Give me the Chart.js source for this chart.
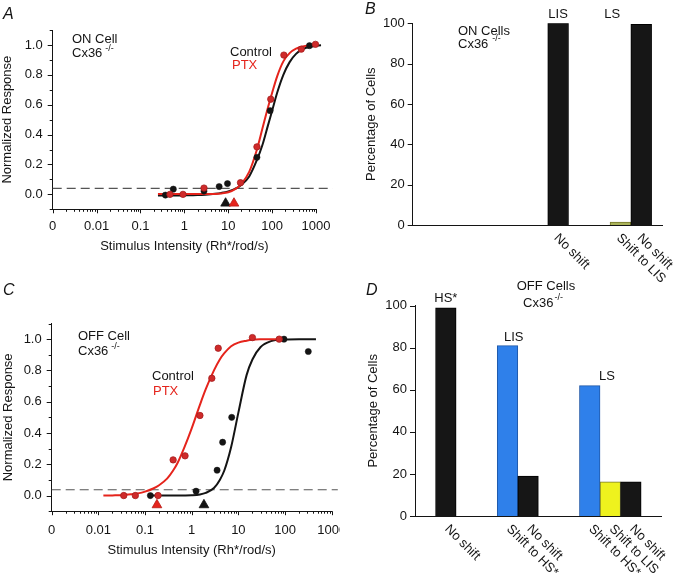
<!DOCTYPE html>
<html>
<head>
<meta charset="utf-8">
<script src="https://cdn.jsdelivr.net/npm/chart.js@4.4.0/dist/chart.umd.min.js"></script>
<style>
  body { margin: 0; background: #fff; width: 680px; height: 577px; position: relative; overflow: hidden; }
  .panel { position: absolute; overflow: hidden; }
  .letter { position: absolute; font: italic 16px 'Liberation Sans', Arial, sans-serif; line-height: 16px; color: #141414; }
</style>
</head>
<body>
<div class="panel" style="left:0;top:0;width:340px;height:290px"><canvas id="chartA" width="340" height="290"></canvas></div>
<div class="panel" style="left:340px;top:0;width:340px;height:290px"><canvas id="chartB" width="340" height="290"></canvas></div>
<div class="panel" style="left:0;top:290px;width:340px;height:287px"><canvas id="chartC" width="360" height="287"></canvas></div>
<div class="panel" style="left:340px;top:270px;width:340px;height:307px"><canvas id="chartD" width="340" height="307"></canvas></div>
<div class="letter" style="left:3px;top:6px">A</div>
<div class="letter" style="left:365px;top:1px">B</div>
<div class="letter" style="left:3px;top:282px">C</div>
<div class="letter" style="left:366px;top:282px">D</div>
<script>
// ---- Panel A: ON cell, Cx36-/- (intensity-response) ----
const ctrlAx = [0.37, 0.56, 2.8, 6.2, 9.6, 45, 90, 708, 1460];
const ctrlAy = [-0.005, 0.035, 0.022, 0.052, 0.072, 0.248, 0.56, 0.995, 1.0];
const ptxAx = [0.47, 0.93, 2.8, 19, 45, 93, 185, 460, 970];
const ptxAy = [0, 0, 0.042, 0.078, 0.318, 0.637, 0.932, 0.972, 1.004];
const fitCtrlAx = [0.25, 0.5, 1, 2, 3, 5, 7, 10, 15, 20, 30, 45, 60, 80, 100, 130, 180, 250, 350, 500, 800, 1300, 2400];
const fitCtrlAy = [-0.008, -0.008, -0.007, -0.005, -0.002, 0.004, 0.01, 0.02, 0.04, 0.065, 0.12, 0.23, 0.33, 0.46, 0.56, 0.68, 0.8, 0.885, 0.94, 0.972, 0.99, 0.998, 1.0];
const fitPtxAx = [0.25, 0.5, 1, 2, 3, 5, 7, 10, 15, 20, 30, 45, 60, 80, 100, 130, 180, 250, 350, 500, 1000];
const fitPtxAy = [0.002, 0.002, 0.002, 0.002, 0.002, 0.003, 0.006, 0.014, 0.038, 0.07, 0.15, 0.3, 0.44, 0.58, 0.68, 0.79, 0.89, 0.945, 0.975, 0.99, 1.0];
const thresholdA = [8.7, 13.5];      // control, PTX
const dashLevelA = 0.04;
const dashSpanA = [0.001, 2400];

// ---- Panel C: OFF cell, Cx36-/- ----
const ctrlCx = [0.13, 1.24, 3.5, 4.6, 7.2, 95, 315];
const ctrlCy = [0, 0.028, 0.162, 0.341, 0.5, 1.0, 0.921];
const ptxCx = [0.035, 0.062, 0.19, 0.40, 0.72, 1.5, 2.7, 3.7, 20, 75];
const ptxCy = [0, 0, 0, 0.228, 0.254, 0.512, 0.75, 0.942, 1.01, 1.0];
const fitCtrlCx = [0.13, 0.3, 0.5, 1, 1.5, 2, 3, 4, 5, 7, 10, 15, 20, 30, 50, 100, 200, 460];
const fitCtrlCy = [0, 0, 0, 0.002, 0.007, 0.017, 0.048, 0.1, 0.16, 0.31, 0.53, 0.77, 0.87, 0.95, 0.987, 0.998, 1.0, 1.0];
const fitPtxCx = [0.0128, 0.02, 0.03, 0.05, 0.07, 0.1, 0.15, 0.2, 0.3, 0.4, 0.5, 0.7, 1, 1.5, 2, 3, 4, 5, 7, 10, 15, 20, 30, 50, 90];
const fitPtxCy = [0, 0.001, 0.002, 0.008, 0.014, 0.025, 0.045, 0.066, 0.11, 0.16, 0.21, 0.31, 0.43, 0.58, 0.68, 0.8, 0.87, 0.91, 0.955, 0.978, 0.99, 0.996, 0.999, 1.0, 1.0];
const thresholdC = [1.83, 0.18];     // control, PTX
const dashLevelC = 0.037;
const dashSpanC = [0.001, 1350];

// ---- Panel B: ON cells, % of cells ----
const catsB = ['', '', '', '', '', '', '', 'No shift', '', '', 'Shift to LIS', 'No shift', ''];
const valsB = [null, null, null, null, null, null, null, 100, null, null, 1.5, 99.5, null];
const groupsB = ['LIS', 'LS'];

// ---- Panel D: OFF cells, % of cells ----
const catsD = ['', 'No shift', '', '', 'Shift to HS*', 'No shift', '', '', 'Shift to HS*', 'Shift to LIS', 'No shift', ''];
const valsD = [null, 99, null, null, 81, 19, null, null, 62, 16.3, 16.3, null];
const groupsD = ['HS*', 'LIS', 'LS'];

const INK = '#141414';
const RED = '#e5241c';
const FONT = "'Liberation Sans', Arial, Helvetica, sans-serif";
Chart.defaults.font.family = FONT;
Chart.defaults.font.size = 13;
Chart.defaults.color = INK;

const pts = (xs, ys) => xs.map((x, i) => ({x, y: ys[i]}));

function logTicks(min, max) {
  const out = [];
  for (let e = Math.floor(Math.log10(min)); e <= Math.ceil(Math.log10(max)); e++) {
    for (let m = 1; m <= 9; m++) {
      const v = +(m * Math.pow(10, e)).toPrecision(6);
      if (v >= min * 0.999 && v <= max * 1.001) out.push({value: v});
    }
  }
  return out;
}
const isDecade = v => Math.abs(Math.log10(v) - Math.round(Math.log10(v))) < 1e-6;
function logLabel(v) {
  if (!isDecade(v)) return '';
  if (v < 0.0015) return '0';
  return v >= 1 ? String(Math.round(v)) : String(+v.toPrecision(1));
}
function tenthLabel(v) {
  const k = Math.round(v * 10);
  return (k >= 0 && k <= 10 && k % 2 === 0) ? (k / 10).toFixed(1) : '';
}

function tickMarks(xLen, yLen) {
  return {
    id: 'tickMarks',
    afterDraw(chart) {
      const {ctx} = chart;
      const xs = chart.scales.x, ys = chart.scales.y;
      ctx.save();
      ctx.strokeStyle = INK;
      ctx.lineWidth = 1;
      ctx.beginPath();
      if (xLen) xs.ticks.forEach(t => {
        const len = xLen(t.value);
        if (!len) return;
        const px = Math.round(xs.getPixelForValue(t.value)) + 0.5;
        ctx.moveTo(px, xs.top); ctx.lineTo(px, xs.top + len);
      });
      if (yLen) ys.ticks.forEach(t => {
        const len = yLen(t.value);
        if (!len) return;
        const py = Math.round(ys.getPixelForValue(t.value)) + 0.5;
        ctx.moveTo(ys.right - len, py); ctx.lineTo(ys.right, py);
      });
      ctx.stroke();
      ctx.restore();
    }
  };
}

function text(ctx, str, x, y, color, align) {
  ctx.font = '13px ' + FONT;
  ctx.fillStyle = color || INK;
  ctx.textAlign = align || 'left';
  ctx.textBaseline = 'middle';
  ctx.fillText(str, x, y);
}
function cxText(ctx, x, y, gap, align) {
  ctx.font = '13px ' + FONT;
  const w = ctx.measureText('Cx36').width;
  ctx.font = '9px ' + FONT;
  const ws = ctx.measureText('-/-').width;
  const left = align === 'center' ? x - (w + gap + ws) / 2 : x;
  text(ctx, 'Cx36', left, y);
  ctx.font = '9px ' + FONT;
  ctx.textAlign = 'left';
  ctx.fillText('-/-', left + w + gap, y - 5);
}

function curveChart(id, cfg) {
  const datasets = [
    {data: pts(cfg.ptxX, cfg.ptxY), showLine: false, pointRadius: 3.2, pointBackgroundColor: '#cf2a2a', pointBorderColor: '#a51d1d', pointBorderWidth: 0.8, clip: false},
    {data: pts(cfg.ctrlX, cfg.ctrlY), showLine: false, pointRadius: 3.1, pointBackgroundColor: INK, pointBorderColor: INK, pointBorderWidth: 0.5, clip: false},
    {data: [{x: cfg.thr[1], y: -0.06}], showLine: false, pointStyle: 'triangle', pointRadius: 5.6, pointBackgroundColor: RED, pointBorderColor: '#b81c16', pointBorderWidth: 0.8, clip: false},
    {data: [{x: cfg.thr[0], y: -0.06}], showLine: false, pointStyle: 'triangle', pointRadius: 5.6, pointBackgroundColor: INK, pointBorderColor: INK, pointBorderWidth: 0.8, clip: false},
    {data: pts(cfg.fitPtxX, cfg.fitPtxY), borderColor: RED, borderWidth: 2, pointRadius: 0, cubicInterpolationMode: 'monotone', clip: false},
    {data: pts(cfg.fitCtrlX, cfg.fitCtrlY), borderColor: INK, borderWidth: 2, pointRadius: 0, cubicInterpolationMode: 'monotone', clip: false},
    {data: cfg.dashSpan.map(x => ({x, y: cfg.dash})), borderColor: '#555', borderWidth: 1.2, borderDash: [9, 5], pointRadius: 0, clip: false}
  ];
  return new Chart(document.getElementById(id), {
    type: 'line',
    data: {datasets},
    options: {
      responsive: false,
      animation: false,
      events: [],
      layout: {padding: cfg.pad},
      plugins: {legend: {display: false}, tooltip: {enabled: false}},
      scales: {
        x: {
          type: 'logarithmic', min: 0.001, max: 1000,
          afterBuildTicks: s => { s.ticks = logTicks(s.min, s.max); },
          afterFit: s => { s.height = cfg.xH; },
          grid: {display: false, drawTicks: false},
          border: {color: INK, width: 1},
          ticks: {autoSkip: false, maxRotation: 0, minRotation: 0, padding: cfg.xPad, callback: logLabel},
          title: {display: true, text: 'Stimulus Intensity (Rh*/rod/s)', padding: 0}
        },
        y: {
          min: -0.1, max: 1.1,
          afterFit: s => { s.width = cfg.yW; },
          grid: {display: false, drawTicks: false},
          border: {color: INK, width: 1},
          ticks: {stepSize: 0.1, autoSkip: false, padding: 10, callback: tenthLabel},
          title: {display: true, text: 'Normalized Response', padding: 0}
        }
      }
    },
    plugins: [
      tickMarks(v => isDecade(v) ? 4 : 2.5, v => tenthLabel(v) ? 5 : 3),
      {id: 'notes', afterDraw: cfg.notes}
    ]
  });
}

curveChart('chartA', {
  ctrlX: ctrlAx, ctrlY: ctrlAy, ptxX: ptxAx, ptxY: ptxAy,
  fitCtrlX: fitCtrlAx, fitCtrlY: fitCtrlAy, fitPtxX: fitPtxAx, fitPtxY: fitPtxAy,
  thr: thresholdA, dash: dashLevelA, dashSpan: dashSpanA,
  pad: {left: 0, top: 30, right: 20, bottom: 36.2}, yW: 52.7, xH: 44.5, xPad: 9.5,
  notes(chart) {
    const ctx = chart.ctx;
    ctx.save();
    text(ctx, 'ON Cell', 72, 39);
    cxText(ctx, 72, 53.5, 3);
    text(ctx, 'Control', 230, 52);
    text(ctx, 'PTX', 232, 65.5, RED);
    ctx.restore();
  }
});

curveChart('chartC', {
  ctrlX: ctrlCx, ctrlY: ctrlCy, ptxX: ptxCx, ptxY: ptxCy,
  fitCtrlX: fitCtrlCx, fitCtrlY: fitCtrlCy, fitPtxX: fitPtxCx, fitPtxY: fitPtxCy,
  thr: thresholdC, dash: dashLevelC, dashSpan: dashSpanC,
  pad: {left: 1, top: 33.5, right: 28.3, bottom: 19.2}, yW: 50.7, xH: 46.6, xPad: 11,
  notes(chart) {
    const ctx = chart.ctx;
    ctx.save();
    text(ctx, 'OFF Cell', 78, 46.7);
    cxText(ctx, 78, 61.7, 3);
    text(ctx, 'Control', 152, 86.7);
    text(ctx, 'PTX', 153, 101.7, RED);
    ctx.restore();
  }
});

const barFill = {'No shift': '#161616', 'Shift to HS*': '#2f80ea', 'Shift to LIS': '#eef21e'};
const barEdge = {'No shift': '#000000', 'Shift to HS*': '#1f57a8', 'Shift to LIS': '#76782a'};

function barChart(id, cfg) {
  const fill = Object.assign({}, barFill, cfg.fill);
  return new Chart(document.getElementById(id), {
    type: 'bar',
    data: {
      labels: cfg.cats,
      datasets: [{
        data: cfg.vals,
        backgroundColor: cfg.cats.map(c => fill[c] || INK),
        borderColor: cfg.cats.map(c => barEdge[c] || INK),
        borderWidth: 1,
        barPercentage: 1,
        categoryPercentage: 1
      }]
    },
    options: {
      responsive: false,
      animation: false,
      events: [],
      layout: {padding: cfg.pad},
      plugins: {legend: {display: false}, tooltip: {enabled: false}},
      scales: {
        x: {
          offset: cfg.offset,
          afterFit: s => { s.height = cfg.xH; },
          grid: {display: false, drawTicks: false},
          border: {color: INK, width: 1},
          ticks: {display: false}
        },
        y: {
          min: 0, max: 100,
          afterFit: s => { s.width = cfg.yW; },
          grid: {display: false, drawTicks: false},
          border: {color: INK, width: 1},
          ticks: {stepSize: 20, autoSkip: false, padding: 8},
          title: {display: true, text: 'Percentage of Cells', padding: 0}
        }
      }
    },
    plugins: [
      tickMarks(null, () => 5),
      {
        id: 'slantLabels',
        afterDraw(chart) {
          const ctx = chart.ctx, xs = chart.scales.x, ys = chart.scales.y;
          ctx.save();
          xs.getLabels().forEach((lab, i) => {
            if (!lab) return;
            const px = xs.getPixelForValue(i);
            ctx.save();
            ctx.translate(px + cfg.labelDx, xs.top + 11);
            ctx.rotate(Math.PI / 4);
            text(ctx, lab, 0, 0);
            ctx.restore();
          });
          cfg.groups.forEach((g, k) => {
            const at = cfg.groupAt[k];
            text(ctx, g, xs.getPixelForValue(at[0]), ys.getPixelForValue(at[1]), INK, 'center');
          });
          cfg.notes(ctx);
          ctx.restore();
        }
      }
    ]
  });
}

barChart('chartB', {
  cats: catsB, vals: valsB, groups: groupsB, offset: false, labelDx: -2,
  fill: {'Shift to LIS': '#aab35a'},
  groupAt: [[7, 104.2], [9.6, 104.2]],
  pad: {left: 24, top: 23.3, right: 18, bottom: 5}, yW: 48.7, xH: 60,
  notes(ctx) {
    text(ctx, 'ON Cells', 118, 31.7);
    cxText(ctx, 118, 44, 4);
  }
});

barChart('chartD', {
  cats: catsD, vals: valsD, groups: groupsD, offset: true, labelDx: 1,
  groupAt: [[1, 103.5], [4.3, 84.8], [8.84, 66.6]],
  pad: {left: 25.5, top: 35.7, right: 18.3, bottom: 5}, yW: 49.5, xH: 56,
  notes(ctx) {
    text(ctx, 'OFF Cells', 206, 16, INK, 'center');
    cxText(ctx, 203, 33, 1, 'center');
  }
});
</script>
</body>
</html>
